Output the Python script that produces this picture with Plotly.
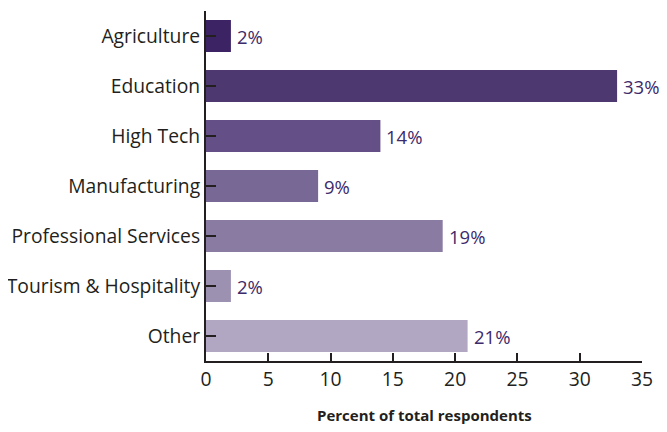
import plotly.graph_objects as go

categories = ["Agriculture", "Education", "High Tech", "Manufacturing",
              "Professional Services", "Tourism & Hospitality", "Other"]
values = [2, 33, 14, 9, 19, 2, 21]
labels = ["2%", "33%", "14%", "9%", "19%", "2%", "21%"]
colors = ["#3c2363", "#4e3870", "#644f86", "#776896", "#8a7ba3", "#9d91b2", "#b1a7c2"]
x_title = "Percent of total respondents"

fig = go.Figure(go.Bar(
    y=categories, x=values, orientation="h",
    marker=dict(color=colors, line=dict(width=0)),
    width=0.64,
))

for cat, val, lab in zip(categories, values, labels):
    fig.add_annotation(text=lab, x=val, y=cat, xref="x", yref="y",
                       xanchor="left", yanchor="middle", xshift=4,
                       showarrow=False,
                       font=dict(color="#3d2a6b", size=18.5, family="Open Sans"))

fig.add_annotation(text="<b>" + x_title + "</b>", xref="paper", yref="paper",
                   x=0.5, y=-0.154, xanchor="center", yanchor="middle",
                   showarrow=False, font=dict(size=15, color="#231f20"))

fig.update_layout(
    width=659, height=424,
    margin=dict(l=198, r=25, t=3, b=71, autoexpand=False),
    paper_bgcolor="white", plot_bgcolor="white",
    font=dict(family="Open Sans", size=19.3, color="#231f20"),
    showlegend=False,
    xaxis=dict(range=[0, 35], dtick=5, showline=True, linecolor="#231f20", linewidth=2,
               ticks="inside", ticklen=8, tickwidth=2, tickcolor="#231f20",
               showgrid=False, zeroline=False, automargin=False),
    yaxis=dict(autorange="reversed", showline=True, linecolor="#231f20", linewidth=2,
               ticks="inside", ticklen=10, tickwidth=2, tickcolor="#231f20",
               showgrid=False, zeroline=False, automargin=False),
)

fig.write_html("out.html")
